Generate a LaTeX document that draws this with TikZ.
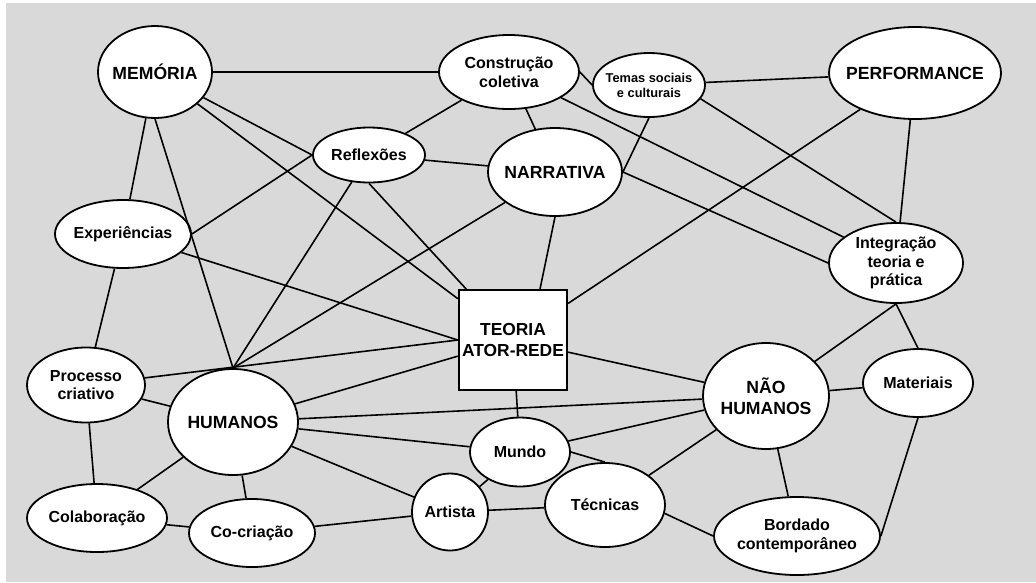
\documentclass[tikz,border=0pt]{standalone}
\usepackage{fontspec}
\setmainfont{Liberation Sans}
\usepackage{tikz}
\usetikzlibrary{shapes.geometric}
\usepackage{xcolor}
\definecolor{fundo}{RGB}{217,217,217}

\begin{document}
\begin{tikzpicture}[x=1pt,y=-1pt,
  bola/.style={ellipse,draw=black,fill=white,line width=1.8pt,inner sep=-6pt,align=center,font=\bfseries\fontsize{16}{18.8}\selectfont},
  grande/.style={bola,inner sep=-10pt,font=\bfseries\fontsize{17.6}{21}\selectfont},
  miuda/.style={bola,font=\bfseries\fontsize{12.8}{15}\selectfont},
  caixa/.style={rectangle,draw=black,fill=white,line width=1.8pt,align=center,font=\bfseries\fontsize{17.4}{21.5}\selectfont},
  liga/.style={black,line width=1.6pt}]
\useasboundingbox (0,0) rectangle (1036,582);
\fill[fundo] (6,3) rectangle (1036,582);
\node[grande,minimum width=114,minimum height=92] (mem) at (155,72) {MEMÓRIA};
\node[bola,minimum width=140,minimum height=74] (con) at (509,72) {Construção\\coletiva};
\node[miuda,minimum width=112,minimum height=64] (tem) at (649,85) {Temas sociais\\e culturais};
\node[grande,minimum width=172,minimum height=92] (perf) at (915,73) {PERFORMANCE};
\node[bola,minimum width=112,minimum height=55] (ref) at (369,155) {Reflexões};
\node[grande,minimum width=134,minimum height=88] (nar) at (555,172) {NARRATIVA};
\node[bola,minimum width=136,minimum height=68] (exp) at (123,234) {Experiências};
\node[bola,minimum width=134,minimum height=80] (int) at (896,263) {Integração\\teoria e\\prática};
\node[caixa,minimum width=108,minimum height=100] (tr) at (513,340) {TEORIA\\ATOR-REDE};
\node[bola,minimum width=118,minimum height=75] (pro) at (86,385) {Processo\\criativo};
\node[grande,minimum width=130,minimum height=106] (hum) at (233,422) {HUMANOS};
\node[grande,minimum width=126,minimum height=106] (nh) at (766,396) {NÃO\\HUMANOS};
\node[bola,minimum width=110,minimum height=68] (mat) at (918,383) {Materiais};
\node[bola,minimum width=100,minimum height=69] (mun) at (520,452) {Mundo};
\node[bola,minimum width=76,minimum height=77] (art) at (450,512) {Artista};
\node[bola,minimum width=120,minimum height=84] (tec) at (605,505) {Técnicas};
\node[bola,minimum width=166,minimum height=78] (bor) at (797,536) {Bordado\\contemporâneo};
\node[bola,minimum width=140,minimum height=68] (col) at (97,518) {Colaboração};
\node[bola,minimum width=126,minimum height=68] (cocr) at (252,533) {Co-criação};
\draw[liga] (mem)--(con);
\draw[liga] (mem)--(exp);
\draw[liga] (mem.south)--(hum.north);
\draw[liga] (mem)--(ref.west);
\draw[liga] (mem)--(tr);
\draw[liga] (con)--(ref);
\draw[liga] (con)--(nar);
\draw[liga] (con)--(int);
\draw[liga] (con.east)--(tem.west);
\draw[liga] (tem)--(perf);
\draw[liga] (tem.-15)--(int.north);
\draw[liga] (tem.south)--(nar.east);
\draw[liga] (perf)--(int);
\draw[liga] (perf)--(tr);
\draw[liga] (nar.east)--(int.west);
\draw[liga] (nar)--(ref);
\draw[liga] (nar.south)--([xshift=27pt]tr.north);
\draw[liga] (nar)--(hum.north);
\draw[liga] (ref.west)--(exp.east);
\draw[liga] (ref)--(hum.north);
\draw[liga] (ref.south)--(tr);
\draw[liga] (exp)--(tr.west);
\draw[liga] (exp)--(pro);
\draw[liga] (pro)--(tr.west);
\draw[liga] (pro)--(hum);
\draw[liga] (pro)--(col);
\draw[liga] (hum)--(tr);
\draw[liga] (hum)--(nh);
\draw[liga] (hum)--(mun);
\draw[liga] (hum)--(art);
\draw[liga] (hum)--(col);
\draw[liga] (hum)--(cocr);
\draw[liga] (col)--(cocr);
\draw[liga] (cocr)--(art);
\draw[liga] (art)--(mun);
\draw[liga] (art)--(tec);
\draw[liga] (mun)--(tr);
\draw[liga] (mun)--(nh);
\draw[liga] (mun.east)--(tec.north);
\draw[liga] (tec)--(nh);
\draw[liga] (tec.-8)--(bor.west);
\draw[liga] (tr)--(nh);
\draw[liga] (nh)--(int.south);
\draw[liga] (nh)--(mat);
\draw[liga] (nh)--(bor);
\draw[liga] (int.south)--(mat.north);
\draw[liga] (mat.south)--(bor.east);
\end{tikzpicture}
\end{document}
